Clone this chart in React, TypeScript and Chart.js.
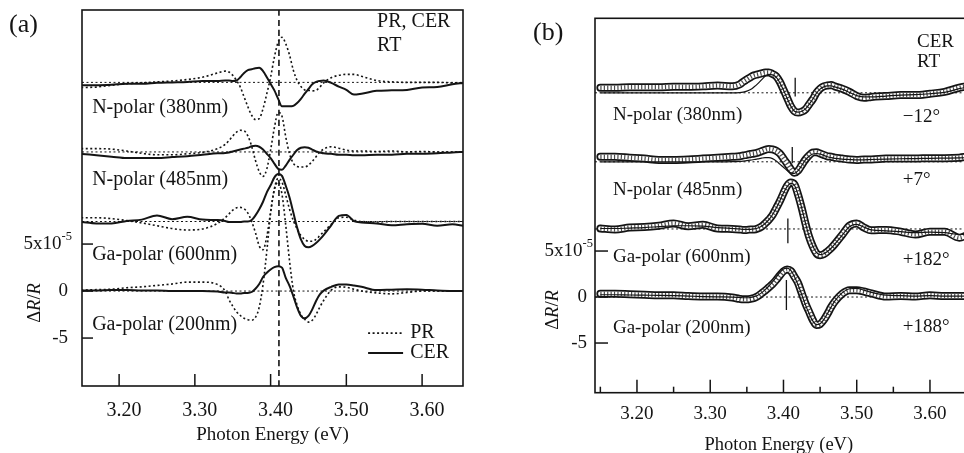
import { useEffect, useRef } from "react";
import { Chart, registerables } from "chart.js";

Chart.register(...registerables);

const SERIF = '"Liberation Serif", "Times New Roman", "DejaVu Serif", serif';
const INK = "#141414";

// ---------------- shared labels / ticks ----------------
const SAMPLE_LABELS = ["N-polar (380nm)", "N-polar (485nm)", "Ga-polar (600nm)", "Ga-polar (200nm)"];
const PHASES_B = ["\u221212\u00b0", "+7\u00b0", "+182\u00b0", "+188\u00b0"];
const X_TICKS = [3.2, 3.3, 3.4, 3.5, 3.6];
const X_MINOR_B = [3.15, 3.25, 3.35, 3.45, 3.55, 3.65];
const Y_TICKS = [-5, 0, 5];

// ---------------- panel (a): PR and CER, units of 1e-5 ----------------
const E_A = [3.15, 3.17, 3.19, 3.21, 3.23, 3.25, 3.27, 3.29, 3.31, 3.33,
  3.34, 3.345, 3.35, 3.355, 3.36, 3.365, 3.37, 3.375, 3.38, 3.385, 3.39, 3.395, 3.4, 3.405, 3.41, 3.415, 3.42, 3.425, 3.43, 3.435, 3.44, 3.445, 3.45, 3.455, 3.46, 3.465, 3.47,
  3.48, 3.49, 3.5, 3.51, 3.52,
  3.54, 3.56, 3.58, 3.6, 3.62, 3.64,
  3.655];
const OFFSET_A = [22.2, 14.8, 7.4, 0];
const RANGE_A = { xMin: 3.151, xMax: 3.654, yMin: -10.1, yMax: 29.9 };
const MARK_E_A = 3.411;

const CER_N380_A = [-0.3, -0.3, -0.25, -0.15, -0.15, -0.05, 0, 0.05, 0.15, 0.15,
  0.2, 0.2, 0.15, 0.2, 0.55, 1.0, 1.3, 1.4, 1.5, 1.55, 1.2, 0.55, -0.15, -0.85, -1.75, -2.55, -2.55, -2.55, -2.5, -2.2, -1.75, -1.2, -0.7, -0.2, 0.05, 0.15, 0.2,
  -0.05, -0.45, -0.8, -1.3, -1.2,
  -0.9, -0.85, -0.8, -0.55, -0.5, -0.2,
  -0.05];
const PR_N380_A = [-0.55, -0.5, -0.3, -0.15, -0.05, 0.05, 0.15, 0.3, 0.55, 1.0,
  1.2, 1.1, 0.75, 0.2, -0.5, -1.55, -2.6, -3.5, -3.95, -3.85, -2.8, -1.2, 0.55, 2.7, 4.3, 4.8, 4.1, 2.9, 1.3, 0.2, -0.45, -0.8, -0.85, -0.9, -0.85, -0.5, -0.05,
  0.5, 0.75, 0.85, 0.85, 0.65,
  0.2, 0.05, 0, 0, 0, -0.05,
  -0.05];
const CER_N485_A = [-0.2, -0.35, -0.5, -0.65, -0.65, -0.65, -0.55, -0.45, -0.3, -0.15,
  -0.1, -0.05, 0.05, 0.15, 0.25, 0.35, 0.45, 0.6, 0.65, 0.55, 0.25, -0.2, -0.65, -1.25, -1.8, -1.9, -1.45, -0.85, -0.3, 0.2, 0.45, 0.5, 0.45, 0.25, 0.05, -0.05, -0.15,
  -0.2, -0.3, -0.3, -0.35, -0.35,
  -0.3, -0.3, -0.2, -0.2, -0.15, -0.05,
  0];
const PR_N485_A = [0.35, 0.35, 0.3, 0.1, -0.15, -0.3, -0.3, -0.2, -0.05, 0.35,
  0.8, 1.2, 1.7, 2.1, 2.3, 2.25, 1.7, 0.6, -0.9, -2.1, -2.6, -1.8, 0.2, 2.6, 4.2, 3.8, 1.6, -0.2, -1.2, -1.55, -1.6, -1.6, -1.4, -1.0, -0.5, 0, 0.3,
  0.55, 0.4, 0.2, 0.1, 0.1,
  0.05, 0.1, 0, 0.05, 0, 0,
  0];
const CER_G600_A = [-0.05, -0.2, -0.2, 0.05, 0.2, 0.65, 0.25, 0.5, 0.2, 0.15,
  0.05, -0.05, -0.05, -0.05, -0.05, 0, 0, 0.15, 0.65, 1.3, 2.1, 3.1, 3.85, 4.7, 5.05, 4.85, 3.8, 2.55, 0.95, -0.65, -1.9, -2.6, -2.75, -2.6, -2.3, -1.9, -1.45,
  -0.4, 0.6, 0.7, 0.05, -0.1,
  -0.2, -0.4, -0.3, -0.25, -0.45, -0.3,
  -0.45];
const PR_G600_A = [0.4, 0.4, 0.3, 0.1, -0.15, -0.45, -0.75, -0.9, -0.8, -0.2,
  0.4, 0.8, 1.2, 1.45, 1.5, 1.35, 0.9, 0.0, -1.2, -2.6, -3.0, -1.6, 1.0, 3.5, 4.6, 4.2, 2.8, 1.3, 0.1, -0.8, -1.5, -1.9, -2.1, -2.1, -1.9, -1.5, -1.1,
  -0.3, 0.4, 0.45, 0.15, 0,
  -0.05, 0, 0, 0, 0, 0,
  0];
const CER_G200_A = [0.05, 0.05, 0.1, 0.1, 0.05, 0.05, 0, 0, 0, -0.05,
  -0.15, -0.15, -0.2, -0.25, -0.25, -0.2, -0.2, -0.1, 0.25, 0.75, 1.5, 1.95, 2.3, 2.55, 2.65, 2.5, 1.4, 0.55, -0.55, -1.75, -2.65, -2.9, -2.65, -1.95, -1.05, -0.35, 0.05,
  0.45, 0.7, 0.7, 0.6, 0.45,
  0.1, 0.15, 0.2, 0.15, 0.05, 0,
  0];
const PR_G200_A = [0.1, 0.15, 0.2, 0.35, 0.45, 0.6, 0.75, 0.95, 0.95, 0.7,
  0, -0.9, -1.6, -2.2, -2.6, -2.9, -3.05, -3.1, -2.8, -1.7, 0.7, 4.25, 8.3, 10.8, 11.6, 10.3, 7.0, 3.2, 0.1, -1.5, -2.5, -3.0, -3.3, -3.1, -2.5, -1.7, -1.0,
  0.1, 0.45, 0.4, 0.2, 0,
  -0.2, -0.3, -0.15, 0, 0, 0,
  0];

// ---------------- panel (b): CER data and fits, units of 1e-5 ----------------
const E_B = [3.15, 3.17, 3.19, 3.21, 3.23, 3.25, 3.27, 3.29, 3.31, 3.33,
  3.34, 3.345, 3.35, 3.355, 3.36, 3.365, 3.37, 3.375, 3.38, 3.385, 3.39, 3.395, 3.4, 3.405, 3.41, 3.415, 3.42, 3.425, 3.43, 3.435, 3.44, 3.445, 3.45, 3.455, 3.46, 3.465, 3.47,
  3.48, 3.49, 3.5, 3.51, 3.52,
  3.54, 3.56, 3.58, 3.6, 3.62, 3.64,
  3.65];
const OFFSET_B = [22.2, 14.7, 7.4, 0];
const RANGE_B = { xMin: 3.1427, xMax: 3.65, yMin: -10.4, yMax: 30.3 };
const MARK_E_B = [3.416, 3.412, 3.406, 3.404];
const MARK_TOP_B = [1.65, 1.6, 1.15, 1.85];
const MARK_BOT_B = [-0.4, -0.15, -1.55, -1.4];

const DATA_N380_B = [0.55, 0.55, 0.6, 0.6, 0.6, 0.65, 0.65, 0.7, 0.8, 0.7,
  0.9, 1.2, 1.45, 1.7, 1.9, 2.0, 2.1, 2.2, 2.2, 2.05, 1.8, 1.2, 0.35, -0.55, -1.45, -2.0, -2.15, -2.05, -1.8, -1.25, -0.7, 0, 0.45, 0.7, 0.8, 0.85, 0.7,
  0.45, 0.1, -0.35, -0.55, -0.45,
  -0.35, -0.25, -0.25, -0.1, 0.1, 0.55,
  0.7];
const FIT_N380_B = [0, 0, 0, 0, 0, 0, 0, 0, 0, 0,
  0.03, 0.08, 0.18, 0.35, 0.65, 1.0, 1.4, 1.8, 2.0, 1.95, 1.7, 1.1, 0.3, -0.6, -1.45, -2.0, -2.1, -2.0, -1.75, -1.25, -0.7, -0.05, 0.4, 0.65, 0.75, 0.75, 0.65,
  0.4, 0.05, -0.3, -0.45, -0.45,
  -0.35, -0.25, -0.2, -0.1, 0.05, 0.45,
  0.6];
const DATA_N485_B = [0.55, 0.55, 0.45, 0.35, 0.2, 0.2, 0.25, 0.35, 0.45, 0.55,
  0.6, 0.7, 0.75, 0.85, 0.9, 1.0, 1.15, 1.3, 1.4, 1.35, 1.2, 0.9, 0.35, -0.2, -0.8, -1.2, -0.95, -0.35, 0.25, 0.7, 1.0, 1.05, 0.9, 0.75, 0.6, 0.55, 0.45,
  0.35, 0.25, 0.2, 0.25, 0.25,
  0.35, 0.35, 0.35, 0.4, 0.4, 0.45,
  0.55];
const FIT_N485_B = [0, 0, 0, 0, 0, 0, 0, 0, 0, 0.02,
  0.05, 0.08, 0.12, 0.18, 0.25, 0.32, 0.4, 0.45, 0.45, 0.35, 0.1, -0.25, -0.6, -0.95, -1.2, -1.25, -0.95, -0.4, 0.2, 0.6, 0.85, 0.9, 0.85, 0.7, 0.55, 0.45, 0.38,
  0.3, 0.25, 0.2, 0.22, 0.25,
  0.3, 0.33, 0.35, 0.38, 0.4, 0.42,
  0.45];
const DATA_G600_B = [0.05, -0.05, 0.15, 0.2, 0.35, 0.6, 0.3, 0.45, 0.05, 0,
  -0.05, -0.1, -0.1, -0.05, -0.05, 0.05, 0.25, 0.6, 1.0, 1.5, 2.25, 3.0, 3.9, 4.7, 5.05, 4.85, 3.7, 2.25, 0.6, -0.85, -1.9, -2.65, -2.85, -2.75, -2.45, -2.1, -1.65,
  -0.65, 0.35, 0.6, 0.15, -0.15,
  -0.1, -0.3, -0.6, -0.3, -0.3, -0.95,
  -0.7];
const FIT_G600_B = [0.05, 0.05, 0.1, 0.15, 0.25, 0.35, 0.35, 0.3, 0.15, 0.05,
  0, -0.05, -0.05, -0.05, 0, 0.1, 0.3, 0.6, 1.0, 1.55, 2.25, 3.05, 3.9, 4.6, 4.95, 4.75, 3.7, 2.25, 0.65, -0.8, -1.85, -2.55, -2.8, -2.7, -2.45, -2.1, -1.65,
  -0.7, 0.25, 0.5, 0.2, -0.1,
  -0.2, -0.3, -0.4, -0.35, -0.4, -0.6,
  -0.6];
const DATA_G200_B = [0.35, 0.35, 0.3, 0.25, 0.2, 0.2, 0.1, 0.05, 0.05, -0.05,
  -0.2, -0.25, -0.25, -0.2, -0.1, 0.1, 0.4, 0.7, 1.05, 1.4, 1.85, 2.35, 2.8, 3.0, 2.85, 2.2, 1.5, 0.4, -0.7, -1.6, -2.5, -3.05, -2.95, -2.5, -1.85, -1.1, -0.5,
  0.35, 0.75, 0.75, 0.6, 0.4,
  0.05, 0.1, 0.05, 0.2, 0.1, 0.1,
  0.1];
const FIT_G200_B = [0.25, 0.25, 0.22, 0.2, 0.18, 0.15, 0.1, 0.05, 0.02, 0,
  -0.05, -0.08, -0.08, -0.05, 0.05, 0.2, 0.45, 0.8, 1.2, 1.65, 2.15, 2.65, 3.05, 3.15, 2.9, 2.2, 1.3, 0.25, -0.85, -1.8, -2.6, -3.0, -2.9, -2.45, -1.8, -1.1, -0.45,
  0.45, 0.9, 0.95, 0.75, 0.5,
  0.2, 0.15, 0.1, 0.15, 0.1, 0.1,
  0.1];

const PR_A = [PR_N380_A, PR_N485_A, PR_G600_A, PR_G200_A];
const CER_A = [CER_N380_A, CER_N485_A, CER_G600_A, CER_G200_A];
const DATA_B = [DATA_N380_B, DATA_N485_B, DATA_G600_B, DATA_G200_B];
const FIT_B = [FIT_N380_B, FIT_N485_B, FIT_G600_B, FIT_G200_B];

// text anchors in data coordinates (energy, 1e-5 units)
const LABEL_POS_A = { e: 3.1644, v: [19.47, 11.81, 3.83, -3.62] };
const LABEL_POS_B = { e: 3.1672, v: [19.78, 11.63, 4.35, -3.37] };
const PHASE_POS_B = { e: 3.563, v: [19.57, 12.72, 4.02, -3.26] };

// ---------------- helpers ----------------
const pts = (xs: number[], ys: number[], off: number) => xs.map((x, i) => ({ x, y: ys[i] + off }));
const seg = (x0: number, y0: number, x1: number, y1: number) => [{ x: x0, y: y0 }, { x: x1, y: y1 }];

function lineDs(data: any[], width: number, dash: number[] = [], color = INK, extra: any = {}) {
  return {
    data,
    borderColor: color,
    borderWidth: width,
    borderDash: dash,
    pointRadius: 0,
    fill: false,
    cubicInterpolationMode: "monotone",
    borderCapStyle: "butt",
    borderJoinStyle: "round",
    ...extra,
  };
}

type Txt = { t: string; e: number; v: number; size: number; align?: CanvasTextAlign };

type PanelCfg = {
  letter: string;
  letterX: number;
  letterY: number;
  majorLen: number;
  minor: number[];
  minorLen: number;
  yTickLen: number;
  numGap: number;
  supGap: number;
  yTitleX: number;
  yTitleY: number;
  xTitleY: number;
  xTitleSize: number;
  xTitleShift: number;
  texts: Txt[];
  legend?: { e0: number; e1: number; eText: number; vPR: number; vCER: number };
};

function decorPlugin(cfg: PanelCfg) {
  return {
    id: "decor",
    afterDraw(chart: any) {
      const { ctx, chartArea: a, scales } = chart;
      const xs = scales.x;
      const ys = scales.y;
      ctx.save();
      ctx.strokeStyle = INK;
      ctx.fillStyle = INK;
      ctx.setLineDash([]);
      // frame
      ctx.lineWidth = 1.6;
      ctx.strokeRect(a.left, a.top, a.right - a.left, a.bottom - a.top);
      // inward ticks
      ctx.lineWidth = 1.5;
      const ln = (x0: number, y0: number, x1: number, y1: number) => {
        ctx.beginPath();
        ctx.moveTo(x0, y0);
        ctx.lineTo(x1, y1);
        ctx.stroke();
      };
      X_TICKS.forEach((v) => {
        const px = xs.getPixelForValue(v);
        ln(px, a.bottom, px, a.bottom - cfg.majorLen);
      });
      cfg.minor.forEach((v) => {
        const px = xs.getPixelForValue(v);
        ln(px, a.bottom, px, a.bottom - cfg.minorLen);
      });
      Y_TICKS.forEach((v) => {
        const py = ys.getPixelForValue(v);
        ln(a.left, py, a.left + cfg.yTickLen, py);
      });
      // y tick labels
      const main = `19px ${SERIF}`;
      const sup = `12.5px ${SERIF}`;
      ctx.textBaseline = "middle";
      ctx.textAlign = "right";
      Y_TICKS.forEach((v) => {
        const py = ys.getPixelForValue(v);
        if (v === 5) {
          ctx.font = sup;
          ctx.fillText("-5", a.left - cfg.supGap, py - 7);
          const w = ctx.measureText("-5").width;
          ctx.font = main;
          ctx.fillText("5x10", a.left - cfg.supGap - w, py);
        } else {
          ctx.font = main;
          ctx.fillText(String(v), a.left - cfg.numGap, py);
        }
      });
      // y title  ΔR/R
      ctx.save();
      ctx.translate(cfg.yTitleX, cfg.yTitleY);
      ctx.rotate(-Math.PI / 2);
      const parts: [string, string][] = [
        ["\u0394", `18.5px ${SERIF}`],
        ["R", `italic 18.5px ${SERIF}`],
        ["/", `18.5px ${SERIF}`],
        ["R", `italic 18.5px ${SERIF}`],
      ];
      let total = 0;
      parts.forEach(([s, f]) => {
        ctx.font = f;
        total += ctx.measureText(s).width;
      });
      let cx = -total / 2;
      ctx.textAlign = "left";
      parts.forEach(([s, f]) => {
        ctx.font = f;
        ctx.fillText(s, cx, 0);
        cx += ctx.measureText(s).width;
      });
      ctx.restore();
      // x title
      ctx.textAlign = "center";
      ctx.font = `${cfg.xTitleSize}px ${SERIF}`;
      ctx.fillText("Photon Energy (eV)", (a.left + a.right) / 2 + cfg.xTitleShift, cfg.xTitleY);
      // panel letter
      ctx.textAlign = "left";
      ctx.font = `26px ${SERIF}`;
      ctx.fillText(cfg.letter, cfg.letterX, cfg.letterY);
      // annotation texts
      cfg.texts.forEach((t) => {
        ctx.font = `${t.size}px ${SERIF}`;
        ctx.textAlign = t.align || "left";
        ctx.fillText(t.t, xs.getPixelForValue(t.e), ys.getPixelForValue(t.v));
      });
      // legend
      if (cfg.legend) {
        const L = cfg.legend;
        const x0 = xs.getPixelForValue(L.e0);
        const x1 = xs.getPixelForValue(L.e1);
        const yPR = ys.getPixelForValue(L.vPR);
        const yCER = ys.getPixelForValue(L.vCER);
        ctx.lineWidth = 1.6;
        ctx.setLineDash([2, 2.5]);
        ln(x0, yPR, x1, yPR);
        ctx.setLineDash([]);
        ctx.lineWidth = 2;
        ln(x0, yCER, x1, yCER);
        ctx.font = `20px ${SERIF}`;
        ctx.textAlign = "left";
        const xt = xs.getPixelForValue(L.eText);
        ctx.fillText("PR", xt, yPR);
        ctx.fillText("CER", xt, yCER);
      }
      ctx.restore();
    },
  };
}

function baseOptions(range: any, pad: any, yWidth: number, xHeight: number, tickPad: number, labelOffset: number, tickSize: number) {
  return {
    animation: false,
    responsive: false,
    maintainAspectRatio: false,
    layout: { padding: pad },
    plugins: { legend: { display: false }, tooltip: { enabled: false } },
    elements: { point: { radius: 0 } },
    scales: {
      x: {
        type: "linear",
        min: range.xMin,
        max: range.xMax,
        grid: { display: false, drawTicks: false },
        border: { display: false },
        afterBuildTicks: (s: any) => {
          s.ticks = X_TICKS.map((v) => ({ value: v }));
        },
        afterFit: (s: any) => {
          s.height = xHeight;
        },
        ticks: {
          autoSkip: false,
          maxRotation: 0,
          padding: tickPad,
          labelOffset,
          color: INK,
          font: { family: SERIF, size: tickSize },
          callback: (v: any) => Number(v).toFixed(2),
        },
      },
      y: {
        type: "linear",
        min: range.yMin,
        max: range.yMax,
        grid: { display: false, drawTicks: false },
        border: { display: false },
        afterBuildTicks: (s: any) => {
          s.ticks = Y_TICKS.map((v) => ({ value: v }));
        },
        afterFit: (s: any) => {
          s.width = yWidth;
        },
        ticks: { display: false },
      },
    },
  };
}

// Chart.js paints the first dataset last (on top); reverse so the array order is paint order.
const paintOrder = (ds: any[]) => ds.slice().reverse();

function configA(): any {
  const ds: any[] = [];
  OFFSET_A.forEach((o) => ds.push(lineDs(seg(RANGE_A.xMin, o, RANGE_A.xMax, o), 1, [2, 2.5])));
  ds.push(lineDs(seg(MARK_E_A, RANGE_A.yMin, MARK_E_A, RANGE_A.yMax), 1.6, [6, 4]));
  PR_A.forEach((arr, i) => ds.push(lineDs(pts(E_A, arr, OFFSET_A[i]), 1.6, [2, 2.5])));
  CER_A.forEach((arr, i) => ds.push(lineDs(pts(E_A, arr, OFFSET_A[i]), 2)));
  const texts: Txt[] = [
    ...SAMPLE_LABELS.map((t, i) => ({ t, e: LABEL_POS_A.e, v: LABEL_POS_A.v[i], size: 20 })),
    { t: "PR, CER", e: 3.5406, v: 28.6, size: 20 },
    { t: "RT", e: 3.5406, v: 26.1, size: 20 },
  ];
  const cfg: PanelCfg = {
    letter: "(a)",
    letterX: 9,
    letterY: 25,
    majorLen: 12,
    minor: [],
    minorLen: 0,
    yTickLen: 11,
    numGap: 14,
    supGap: 10,
    yTitleX: 35,
    yTitleY: 303,
    xTitleY: 435,
    xTitleSize: 19,
    xTitleShift: 0,
    texts,
    legend: { e0: 3.5287, e1: 3.5749, eText: 3.5842, vPR: -4.47, vCER: -6.6 },
  };
  return {
    type: "line",
    data: { datasets: paintOrder(ds) },
    options: baseOptions(RANGE_A, { left: 0, right: 19, top: 10, bottom: 0 }, 82, 67, 13, 5, 20),
    plugins: [decorPlugin(cfg)],
  };
}

function configB(): any {
  const ds: any[] = [];
  OFFSET_B.forEach((o) => ds.push(lineDs(seg(RANGE_B.xMin, o, RANGE_B.xMax, o), 1, [2, 2.5])));
  DATA_B.forEach((arr, i) => {
    const d = pts(E_B, arr, OFFSET_B[i]);
    ds.push(lineDs(d, 8, [], INK, { borderCapStyle: "round" }));
    ds.push(lineDs(d, 4.5, [], "#ffffff", { borderCapStyle: "round" }));
    ds.push(lineDs(d, 4.5, [1.2, 2.2], "#4a4a4a"));
  });
  FIT_B.forEach((arr, i) => ds.push(lineDs(pts(E_B, arr, OFFSET_B[i]), 1.2)));
  MARK_E_B.forEach((e, i) =>
    ds.push(lineDs(seg(e, OFFSET_B[i] + MARK_BOT_B[i], e, OFFSET_B[i] + MARK_TOP_B[i]), 1.3))
  );
  const texts: Txt[] = [
    ...SAMPLE_LABELS.map((t, i) => ({ t, e: LABEL_POS_B.e, v: LABEL_POS_B.v[i], size: 19 })),
    ...PHASES_B.map((t, i) => ({ t, e: PHASE_POS_B.e, v: PHASE_POS_B.v[i], size: 19 })),
    { t: "CER", e: 3.5823, v: 27.7, size: 19 },
    { t: "RT", e: 3.5823, v: 25.5, size: 19 },
  ];
  const cfg: PanelCfg = {
    letter: "(b)",
    letterX: 51,
    letterY: 33,
    majorLen: 13,
    minor: X_MINOR_B,
    minorLen: 6,
    yTickLen: 13,
    numGap: 8,
    supGap: 2,
    yTitleX: 71,
    yTitleY: 310,
    xTitleY: 445,
    xTitleSize: 18.5,
    xTitleShift: -2,
    texts,
  };
  return {
    type: "line",
    data: { datasets: paintOrder(ds) },
    options: baseOptions(RANGE_B, { left: 0, right: 15.4, top: 18.3, bottom: 0 }, 113, 60.3, 9.5, 0, 19),
    plugins: [decorPlugin(cfg)],
  };
}

export default function App() {
  const refA = useRef<HTMLCanvasElement>(null);
  const refB = useRef<HTMLCanvasElement>(null);
  useEffect(() => {
    const ca = new Chart(refA.current as HTMLCanvasElement, configA());
    const cb = new Chart(refB.current as HTMLCanvasElement, configB());
    return () => {
      ca.destroy();
      cb.destroy();
    };
  }, []);
  return (
    <div
      style={{
        position: "fixed",
        left: 0,
        top: 0,
        width: 964,
        height: 453,
        overflow: "hidden",
        background: "#ffffff",
      }}
    >
      <canvas
        ref={refA}
        width={482}
        height={453}
        style={{ position: "absolute", left: 0, top: 0, width: 482, height: 453 }}
      />
      <canvas
        ref={refB}
        width={500}
        height={453}
        style={{ position: "absolute", left: 482, top: 0, width: 500, height: 453 }}
      />
    </div>
  );
}
